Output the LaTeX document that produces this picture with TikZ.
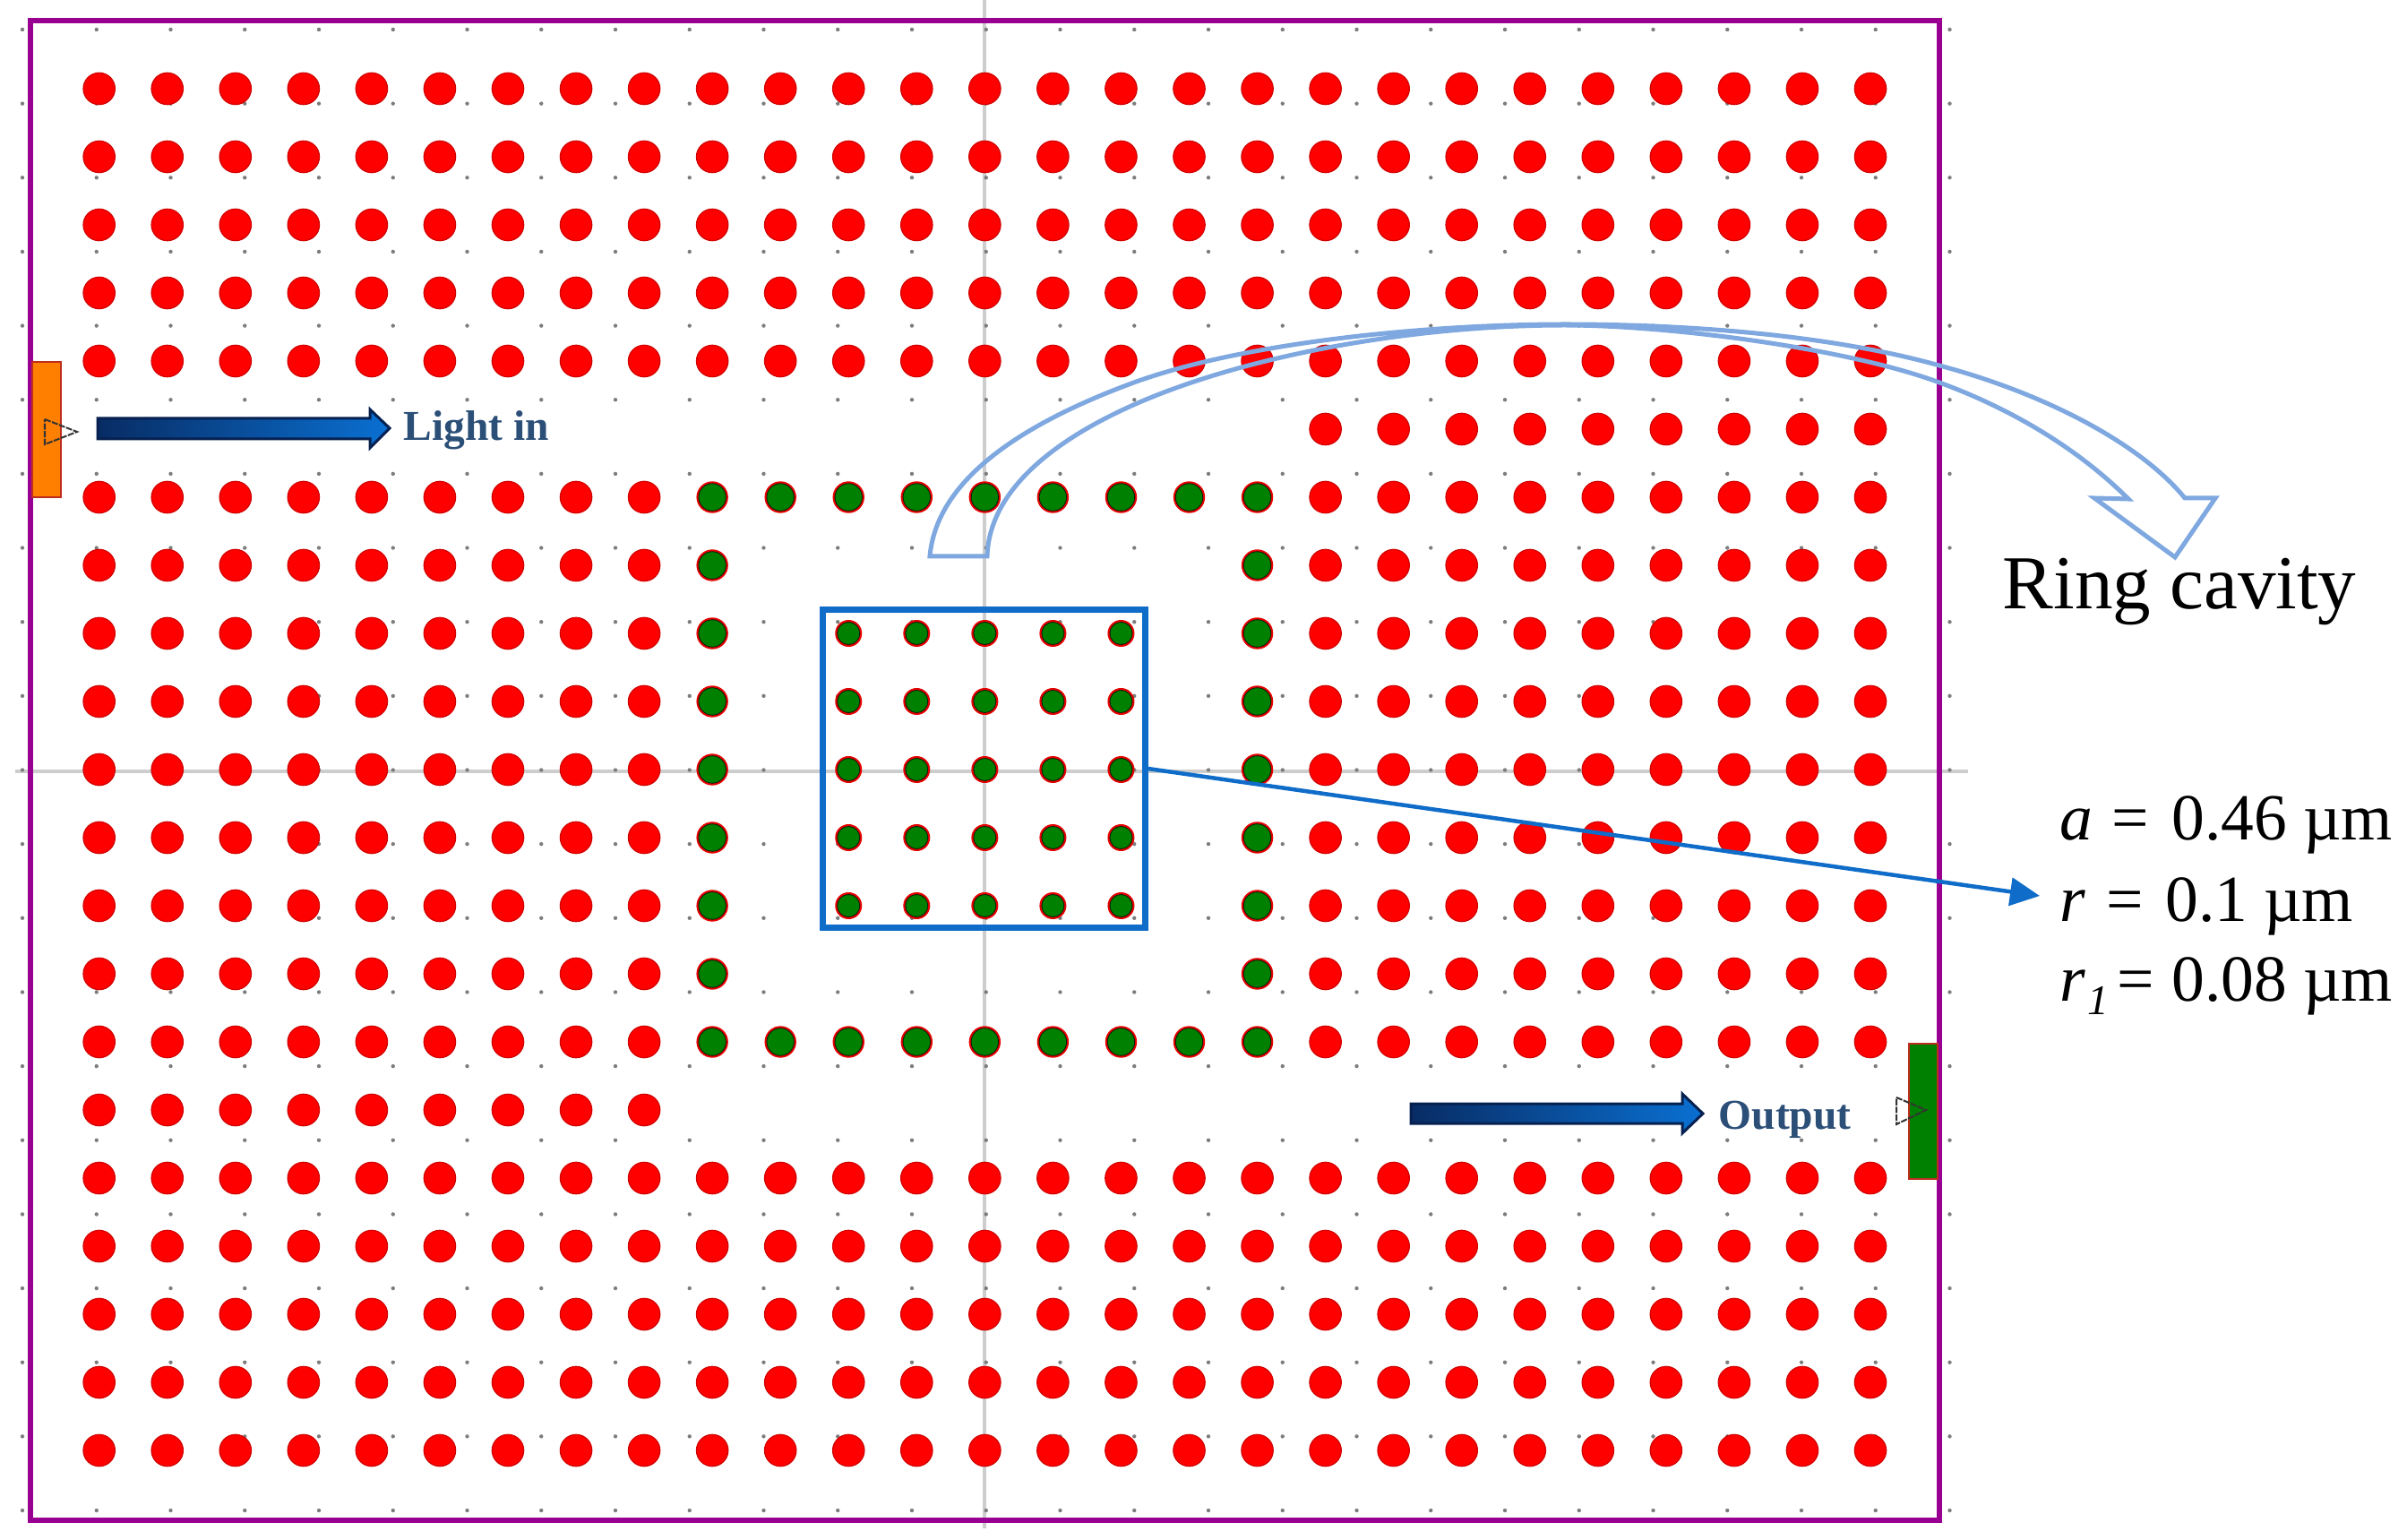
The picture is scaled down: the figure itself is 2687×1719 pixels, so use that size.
\documentclass[tikz,border=0pt]{standalone}
\usepackage{fontspec}
\setmainfont{Liberation Serif}
\usetikzlibrary{arrows.meta}
\definecolor{holegreen}{RGB}{0,128,0}
\definecolor{frameviolet}{RGB}{153,0,145}
\definecolor{boxblue}{RGB}{15,108,200}
\definecolor{ringblue}{RGB}{126,168,223}
\definecolor{arrownavy}{RGB}{8,44,100}
\definecolor{arrowbright}{RGB}{10,112,210}
\definecolor{arrowedge}{RGB}{6,32,80}
\definecolor{labelblue}{RGB}{44,79,120}
\definecolor{portorange}{RGB}{255,128,0}
\definecolor{portedge}{RGB}{190,45,30}
\definecolor{guide}{RGB}{205,205,205}
\definecolor{griddot}{RGB}{125,125,125}
\tikzset{
  framebox/.style={draw=frameviolet,line width=0.055cm,fill=none},
  guideline/.style={draw=guide,line width=0.04cm},
  griddotmark/.style={fill=griddot},
  redhole/.style={fill=red,draw=red!82!black,line width=0.012cm},
  greenhalo/.style={fill=red!90!black},
  greencore/.style={fill=holegreen,draw=black!75!holegreen,line width=0.008cm},
  portbox/.style={draw=portedge,line width=0.028cm},
  marker/.style={draw=black!80,line width=0.02cm,dash pattern=on 0.07cm off 0.015cm,line join=miter},
  blockarrow/.style={left color=arrownavy,right color=arrowbright,draw=arrowedge,line width=0.03cm,line join=miter},
  arrowlabel/.style={inner sep=0pt,anchor=base west,text=labelblue,font=\bfseries\fontsize{13.5pt}{16pt}\selectfont},
  datalabel/.style={inner sep=0pt,anchor=base west,text=black,font=\fontsize{20.9pt}{25pt}\selectfont},
  ringarrow/.style={draw=ringblue,line width=0.05cm,fill=none,line join=miter},
  cavitybox/.style={draw=boxblue,line width=0.07cm,fill=none,inner sep=0pt,minimum width=3.59cm,minimum height=3.54cm},
  pointer/.style={draw=boxblue,line width=0.045cm,-{Triangle[length=0.33cm,width=0.31cm]}}
}
\newcommand{\redat}[2]{\path[redhole] ({110.7+76.05*#1},{99+76*#2}) circle (0.177cm);}
\newcommand{\greenat}[3]{%
  \path[greenhalo] ({110.7+76.05*#1},{99+76*#2}) circle (#3);
  \path[greencore] ({110.7+76.05*#1},{99+76*#2}) circle ({#3-0.025cm});}
\begin{document}
\begin{tikzpicture}[x=0.01cm,y=-0.01cm]
\useasboundingbox (0,0) rectangle (2687,1719);
% crosshair
\path[guideline] (1099,0) -- (1099,1706);
\path[guideline] (17,861) -- (2197,861);
% grid dots
\foreach \gy in {0,...,20}{
  \foreach \gx in {0,...,26}{
    \path[griddotmark] ({25+82.75*\gx},{33+82.65*\gy}) circle (0.022cm);
  }
}
% full rows of red holes
\foreach \hy in {0,1,2,3,4,16,17,18,19,20}{
  \foreach \hx in {0,...,26}{\redat{\hx}{\hy}}
}
% row 5, right part only
\foreach \hx in {18,...,26}{\redat{\hx}{5}}
% left and right blocks, rows 6-14
\foreach \hy in {6,...,14}{
  \foreach \hx in {0,...,8}{\redat{\hx}{\hy}}
  \foreach \hx in {18,...,26}{\redat{\hx}{\hy}}
}
% row 15, left part only
\foreach \hx in {0,...,8}{\redat{\hx}{15}}
% ring of green holes
\foreach \hx in {9,...,17}{\greenat{\hx}{6}{0.177cm}\greenat{\hx}{14}{0.177cm}}
\foreach \hy in {7,...,13}{\greenat{9}{\hy}{0.177cm}\greenat{17}{\hy}{0.177cm}}
% inner green holes
\foreach \hy in {8,...,12}{
  \foreach \hx in {11,...,15}{\greenat{\hx}{\hy}{0.15cm}}
}
% frame
\path[framebox] (34,23) rectangle (2165,1697);
% ports
\path[portbox,fill=portorange] (36,404) rectangle (68,555);
\path[portbox,fill=holegreen] (2131,1165) rectangle (2163,1316);
\path[marker] (50,468) -- (86,482) -- (50,496) -- cycle;
\path[marker] (2117,1225) -- (2150,1239) -- (2117,1255) -- cycle;
% block arrows
\path[blockarrow] (109,467) -- (413,467) -- (413,457) -- (435,478) -- (413,500) -- (413,490) -- (109,490) -- cycle;
\path[blockarrow] (1575,1232) -- (1878,1232) -- (1878,1221) -- (1901,1243) -- (1878,1265) -- (1878,1254) -- (1575,1254) -- cycle;
\node[arrowlabel] (lightin) at (450,492) {Light in};
\node[arrowlabel] (output) at (1918,1260) {Output};
% ring cavity arrow
\path[ringarrow] (1038,621) .. controls (1045,540) and (1131,477) .. (1263,428)
  .. controls (1390,381) and (1600,362) .. (1747,362)
  .. controls (1880,362) and (2040,373) .. (2165,408)
  .. controls (2285,440) and (2390,496) .. (2439,556)
  -- (2473,556) -- (2428,622) -- (2338,556) -- (2376,557)
  .. controls (2326,507) and (2255,460) .. (2165,427)
  .. controls (2060,388) and (1860,363) .. (1747,363)
  .. controls (1580,363) and (1390,396) .. (1263,453)
  .. controls (1163,498) and (1104,555) .. (1102,621) -- cycle;
\node[inner sep=0pt,anchor=base west,font=\fontsize{24.2pt}{28pt}\selectfont] (ring) at (2235,680) {Ring cavity};
% cavity box and pointer
\node[cavitybox] (cavity) at (1098.5,858) {};
\node[datalabel] (alabel) at (2299,938) {\textit{a} \kern0.83pt= \kern2.02pt0.46 µm};
\node[datalabel] (rlabel) at (2299,1028) {\textit{r} \kern1.37pt= \kern1.67pt0.1 µm};
\node[datalabel] (ronelabel) at (2299,1117) {\textit{r}\kern0.5pt\raisebox{-4.5pt}{\fontsize{13.4pt}{13.4pt}\selectfont\textit{1}}\kern2.8pt= \kern0.27pt0.08 µm};
\coordinate (pointertip) at (2277,1000);
\path[pointer] (cavity.east) -- (pointertip);
\end{tikzpicture}
\end{document}
